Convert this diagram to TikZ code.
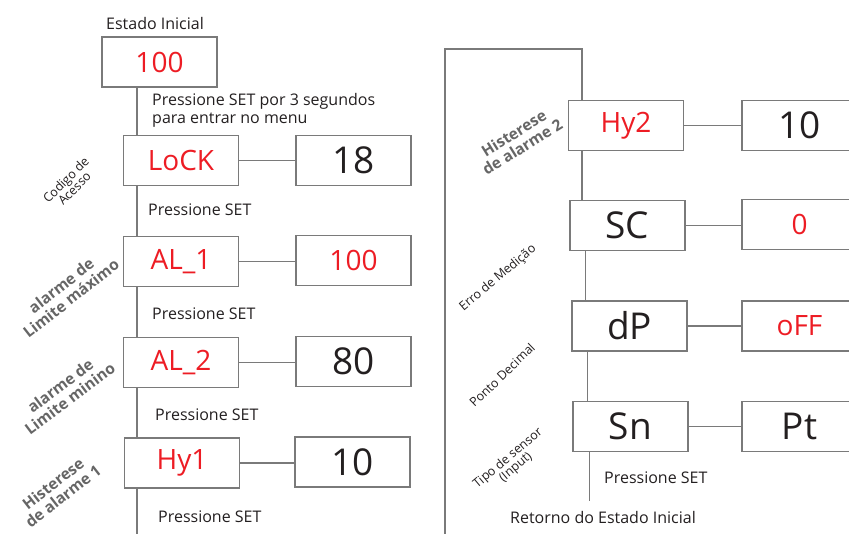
\documentclass[tikz,border=0pt]{standalone}
\usepackage{fontspec}
\setmainfont{Open Sans}
\usetikzlibrary{calc}
\definecolor{dred}{HTML}{ED1C24}
\definecolor{dtxt}{HTML}{231F20}
\definecolor{dline}{HTML}{7A7A7A}
\definecolor{dlab}{HTML}{666666}
\tikzset{
  box/.style={draw=dline, line width=1.1pt, minimum width=115pt, minimum height=50pt, inner sep=0pt},
  redval/.style={box, text=dred, font=\fontsize{28}{30}\selectfont},
  blkval/.style={box, text=dtxt, font=\fontsize{37}{40}\selectfont},
  conn/.style={draw=dline, line width=1.1pt},
  note/.style={text=dtxt, font=\fontsize{16}{18}\selectfont, inner sep=0pt},
  biglab/.style={text=dlab, font=\bfseries\fontsize{15.5}{16}\selectfont, align=center, inner sep=0pt},
  smalllab/.style={text=dtxt, font=\fontsize{12.5}{12}\selectfont, align=center, inner sep=0pt},
}
\begin{document}
\begin{tikzpicture}[x=1pt,y=-1pt]
\useasboundingbox (0,0) rectangle (849,533);
% left column
\node[note] (estado) at (155,23) {Estado Inicial};
\node[redval] (init) at (159.5,62) {100};
\node[redval] (lock) at (181,160.5) {LoCK};
\node[blkval] (lockv) at (353.5,160.5) {18};
\node[redval] (al1) at (181,261.5) {AL\_1};
\node[redval] (al1v) at (353.5,260.5) {100};
\node[redval] (al2) at (181,362.5) {AL\_2};
\node[blkval] (al2v) at (353.5,361.5) {80};
\node[redval] (hy1) at (182,463) {Hy1};
\node[blkval] (hy1v) at (352.5,462) {10};
\coordinate (leftbot) at (138,540);

\node[note, anchor=north west, align=left] (p0) at (152,93) {Pressione SET por 3 segundos\\para entrar no menu};
\node[note, anchor=west] (p1) at (148,210) {Pressione SET};
\node[note, anchor=west] (p2) at (152,314) {Pressione SET};
\node[note, anchor=west] (p3) at (155,415) {Pressione SET};
\node[note, anchor=west] (p4) at (158,517) {Pressione SET};

\node[smalllab, rotate=45] (l1) at (70,184) {Codigo de\\Acesso};
\node[biglab, rotate=38] (l2) at (66,292) {alarme de\\Limite máximo};
\node[biglab, rotate=37] (l3) at (65,392) {alarme de\\Limite minino};
\node[biglab, rotate=38] (l4) at (58,490) {Histerese\\de alarme 1};

\coordinate (a0) at ($(lock.north west)+(14,0)$);
\coordinate (a1) at ($(lock.south west)+(14,0)$);
\coordinate (a2) at ($(al1.south west)+(14,0)$);
\coordinate (a3) at ($(al2.south west)+(14,0)$);
\coordinate (a4) at ($(hy1.south west)+(13,0)$);
\path[conn] (a0) -- (a0 |- init.south);
\path[conn] (a1) -- (a1 |- al1.north);
\path[conn] (a2) -- (a2 |- al2.north);
\path[conn] (a3) -- (a3 |- hy1.north);
\path[conn] (a4) -- (a4 |- leftbot);
\path[conn] (lock.east) -- (lock.east -| lockv.west);
\path[conn] (al1.east) -- (al1.east -| al1v.west);
\path[conn] (al2.east) -- (al2.east -| al2v.west);
\path[conn] (hy1.east) -- (hy1.east -| hy1v.west);

% right column
\node[redval] (hy2) at (626,125.5) {Hy2};
\node[blkval] (hy2v) at (799.5,125.5) {10};
\node[blkval] (sc) at (627.5,225.5) {SC};
\node[redval] (scv) at (799.5,224.5) {0};
\node[blkval] (dp) at (629.5,326) {dP};
\node[redval] (dpv) at (799.5,326) {oFF};
\node[blkval] (sn) at (630.5,426.5) {Sn};
\node[blkval] (snv) at (799.5,426.5) {Pt};
\coordinate (frametop) at (445,49);
\coordinate (framebot) at (445,540);
\coordinate (rightbot) at (590,501);

\node[note, anchor=west] (p5) at (604,478) {Pressione SET};
\node[note] (ret) at (603,517) {Retorno do Estado Inicial};

\node[biglab, rotate=32] (l5) at (518,140) {Histerese\\de alarme 2};
\node[smalllab, rotate=40] (l6) at (498,278) {Erro de Medição};
\node[smalllab, rotate=44] (l7) at (502,375) {Ponto Decimal};
\node[smalllab, rotate=40] (l8) at (512,463) {Tipo de sensor\\(Input)};

\coordinate (b0) at ($(hy2.north west)+(14,0)$);
\coordinate (b1) at ($(hy2.south west)+(14,0)$);
\coordinate (b2) at ($(sc.south west)+(16,0)$);
\coordinate (b3) at ($(dp.south west)+(16,0)$);
\coordinate (b4) at ($(sn.south west)+(17,0)$);
\path[conn] (b0) |- (frametop) -- (framebot);
\path[conn] (b1) -- (b1 |- sc.north);
\path[conn] (b2) -- (b2 |- dp.north);
\path[conn] (b3) -- (b3 |- sn.north);
\path[conn] (b4) -- (b4 |- rightbot);
\path[conn] (hy2.east) -- (hy2.east -| hy2v.west);
\path[conn] (sc.east) -- (sc.east -| scv.west);
\path[conn] (dp.east) -- (dp.east -| dpv.west);
\path[conn] (sn.east) -- (sn.east -| snv.west);
\end{tikzpicture}
\end{document}
